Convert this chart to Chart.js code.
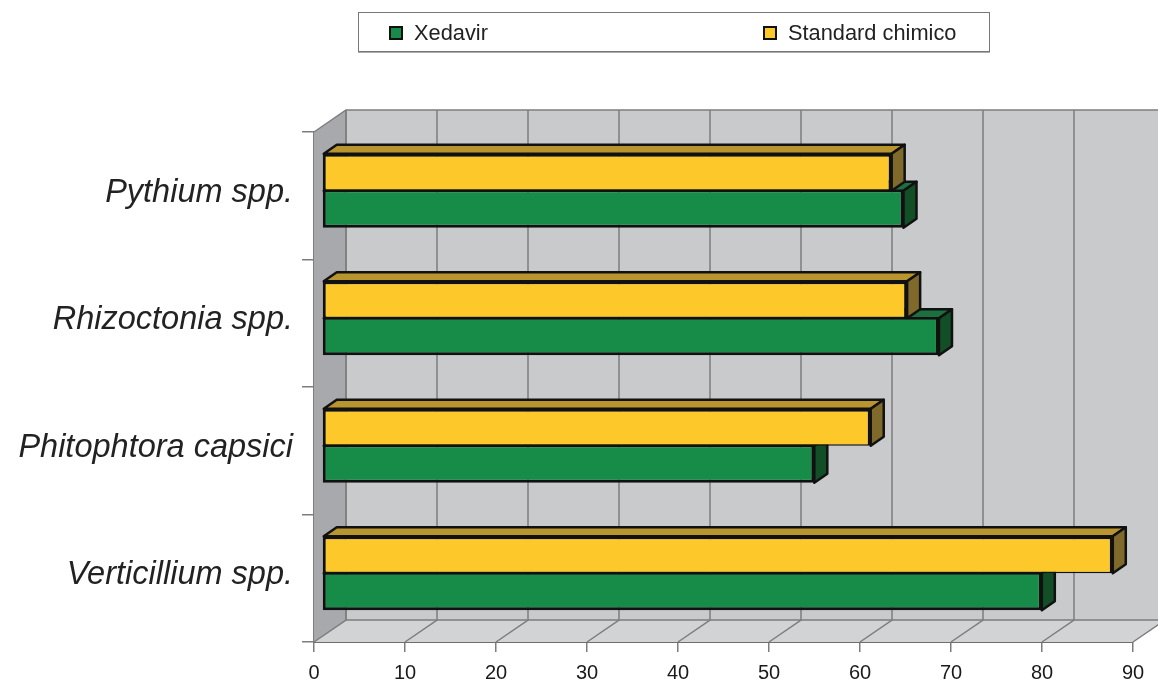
<!DOCTYPE html>
<html>
<head>
<meta charset="utf-8">
<script src="https://cdn.jsdelivr.net/npm/chart.js@4/dist/chart.umd.js"></script>
<style>
    html, body { margin: 0; background: #fff; }
    #wrap { position: relative; width: 1158px; height: 681px; overflow: hidden; }
    #legend {
        position: absolute; left: 358px; top: 12px; width: 630px; height: 38px;
        border: 1px solid #777; box-shadow: 0 1px 0 #aaa; background: #fff;
        font: 21.8px "Liberation Sans", Arial, sans-serif; color: #222;
    }
    #legend span.item { position: absolute; top: 8px; line-height: 24px; white-space: nowrap; }
    #legend i {
        display: inline-block; width: 10px; height: 10px; border: 2px solid #111;
        margin-right: 11px; vertical-align: 0;
    }
</style>
</head>
<body>
<div id="wrap">
    <canvas id="chart" width="1158" height="681"></canvas>
    <div id="legend"></div>
</div>
<script>
const categories = ['Pythium spp.', 'Rhizoctonia spp.', 'Phitophtora capsici', 'Verticillium spp.'];
const xedavir = [63.9, 67.8, 54.1, 79.1];
const standardChimico = [62.6, 64.3, 60.3, 86.9];
const xTicks = [0, 10, 20, 30, 40, 50, 60, 70, 80, 90];

const wallDx = 32;
const wallDy = 22;
const barDx = 13;
const barDy = 9;

function poly(ctx, points, fill, stroke, width) {
    ctx.beginPath();
    points.forEach(([x, y], i) => (i ? ctx.lineTo(x, y) : ctx.moveTo(x, y)));
    ctx.closePath();
    if (fill) {
        ctx.fillStyle = fill;
        ctx.fill();
    }
    if (stroke) {
        ctx.strokeStyle = stroke;
        ctx.lineWidth = width;
        ctx.stroke();
    }
}

// back wall, side wall and floor behind the bars
const roomPlugin = {
    id: 'room',
    beforeDatasetsDraw(chart) {
        const { ctx, chartArea: a, scales } = chart;
        const grey = '#7d7d7f';
        ctx.save();
        poly(ctx, [[a.left + wallDx, a.top - wallDy], [a.right + wallDx, a.top - wallDy], [a.right + wallDx, a.bottom - wallDy], [a.left + wallDx, a.bottom - wallDy]], '#c9cacc');
        poly(ctx, [[a.left, a.bottom], [a.right, a.bottom], [a.right + wallDx, a.bottom - wallDy], [a.left + wallDx, a.bottom - wallDy]], '#d2d3d5');
        poly(ctx, [[a.left, a.top], [a.left + wallDx, a.top - wallDy], [a.left + wallDx, a.bottom - wallDy], [a.left, a.bottom]], '#a8a9ad');

        ctx.strokeStyle = grey;
        ctx.lineWidth = 1.5;
        xTicks.forEach((value) => {
            const x = scales.x.getPixelForValue(value);
            ctx.beginPath();
            ctx.moveTo(x, a.bottom);
            ctx.lineTo(x + wallDx, a.bottom - wallDy);
            ctx.lineTo(x + wallDx, a.top - wallDy);
            ctx.stroke();
        });
        ctx.beginPath();
        ctx.moveTo(a.left, a.top);
        ctx.lineTo(a.left + wallDx, a.top - wallDy);
        ctx.lineTo(a.right + wallDx, a.top - wallDy);
        ctx.moveTo(a.left + wallDx, a.top - wallDy);
        ctx.lineTo(a.left + wallDx, a.bottom - wallDy);
        ctx.lineTo(a.right + wallDx, a.bottom - wallDy);
        ctx.stroke();
        ctx.restore();
    },
};

// top and end faces of the bars; the fronts come from Chart.js itself
const depthPlugin = {
    id: 'depth',
    beforeDatasetsDraw(chart) {
        const { ctx } = chart;
        ctx.save();
        ctx.translate(8, -5);
        ctx.lineJoin = 'round';
        // last dataset first, so the yellow faces land on top of the green ones
        [...chart.data.datasets.keys()].reverse().forEach((index) => {
            const dataset = chart.data.datasets[index];
            chart.getDatasetMeta(index).data.forEach((bar) => {
                const { x, y, base, height } = bar.getProps(['x', 'y', 'base', 'height'], true);
                const top = y - height / 2;
                const bottom = y + height / 2;
                poly(ctx, [[base + 1, top], [base + 1 + barDx, top - barDy], [x + barDx, top - barDy], [x, top]], dataset.topColor, '#111', 2.5);
                poly(ctx, [[x, top], [x + barDx, top - barDy], [x + barDx, bottom - barDy], [x, bottom]], dataset.sideColor, '#111', 2.5);
            });
        });
    },
    afterDatasetsDraw(chart) {
        chart.ctx.restore();
    },
};

const chart = new Chart(document.getElementById('chart'), {
    type: 'bar',
    data: {
        labels: categories,
        datasets: [
            {
                label: 'Standard chimico',
                data: standardChimico,
                backgroundColor: '#fdc82a',
                topColor: '#b8952f',
                sideColor: '#7f6a2c',
                borderColor: '#111',
                borderWidth: { top: 3, right: 3, bottom: 1.5, left: 3 },
            },
            {
                label: 'Xedavir',
                data: xedavir,
                backgroundColor: '#168c48',
                topColor: '#1c6f3e',
                sideColor: '#124f26',
                borderColor: '#111',
                borderWidth: { top: 1.5, right: 3, bottom: 3, left: 3 },
            },
        ],
    },
    options: {
        indexAxis: 'y',
        responsive: false,
        animation: false,
        layout: {
            padding: { top: 132, right: 25, bottom: 0, left: 0 },
        },
        datasets: {
            bar: {
                clip: false,
                borderSkipped: false,
                barPercentage: 1,
                categoryPercentage: 0.58,
            },
        },
        plugins: {
            legend: { display: false },
            tooltip: { enabled: false },
        },
        scales: {
            x: {
                type: 'linear',
                min: 0,
                max: 90,
                afterFit(scale) {
                    scale.height = 39;
                },
                afterBuildTicks(scale) {
                    scale.ticks = xTicks.map((value) => ({ value }));
                },
                border: { color: '#6e6e70', width: 2 },
                grid: { drawOnChartArea: false, color: '#7d7d7f', lineWidth: 1.5, tickLength: 10 },
                ticks: {
                    color: '#1a1a1a',
                    padding: 9,
                    maxRotation: 0,
                    font: { family: '"Liberation Sans", Arial, sans-serif', size: 20 },
                },
            },
            y: {
                afterFit(scale) {
                    scale.width = 314;
                },
                border: { color: '#7d7d7f', width: 2 },
                grid: { drawOnChartArea: false, color: '#7d7d7f', lineWidth: 1.5, tickLength: 12 },
                ticks: {
                    color: '#222',
                    padding: 9,
                    labelOffset: -3,
                    font: { family: '"Liberation Sans", Arial, sans-serif', size: 32.5, style: 'italic' },
                },
            },
        },
    },
    plugins: [roomPlugin, depthPlugin],
});

// legend as plain markup, the two entries sit far apart in the original
const legendEntries = [
    { dataset: chart.data.datasets[1], left: 30 },
    { dataset: chart.data.datasets[0], left: 404 },
];
legendEntries.forEach(({ dataset, left }) => {
    const item = document.createElement('span');
    item.className = 'item';
    item.style.left = left + 'px';
    const swatch = document.createElement('i');
    swatch.style.background = dataset.backgroundColor;
    item.append(swatch, dataset.label);
    document.getElementById('legend').append(item);
});
</script>
</body>
</html>
